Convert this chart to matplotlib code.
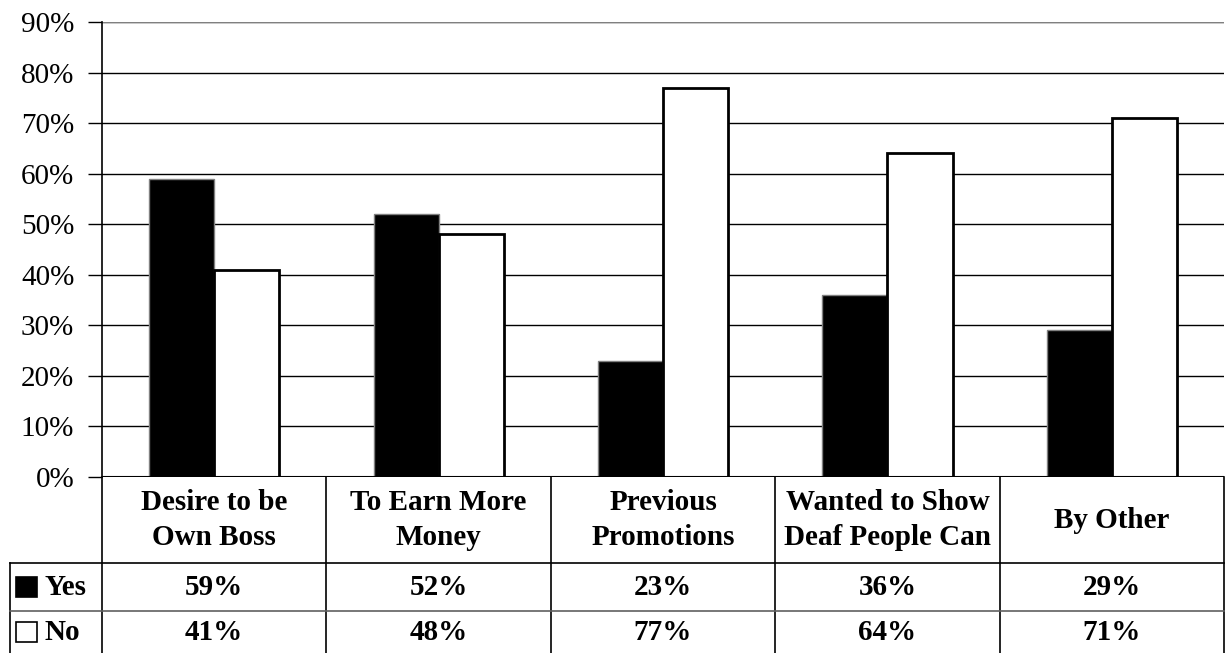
"""Motivation for starting a business: Yes/No bars with a data table underneath."""

import matplotlib
matplotlib.use("Agg")
import matplotlib.pyplot as plt
from matplotlib.patches import Rectangle
import matplotlib.transforms as mtransforms
import numpy as np

plt.rcParams["font.family"] = ["Liberation Serif", "DejaVu Serif"]

# ── data ──
categories = [
    "Desire to be\nOwn Boss",
    "To Earn More\nMoney",
    "Previous\nPromotions",
    "Wanted to Show\nDeaf People Can",
    "By Other",
]
yes_pct = [59, 52, 23, 36, 29]
no_pct = [41, 48, 77, 64, 71]
series_names = ["Yes", "No"]
y_ticks = [0, 10, 20, 30, 40, 50, 60, 70, 80, 90]

FS = 21

fig = plt.figure(figsize=(12.25, 6.53), dpi=100, facecolor="white")
ax = fig.add_axes([0.0833, 0.2695, 0.9159, 0.6968])

x = np.arange(len(categories))
w = 0.29
ax.bar(x - w / 2, yes_pct, w, color="black", edgecolor="#808080",
       linewidth=1.0, zorder=3)
ax.bar(x + w / 2, no_pct, w, color="white", edgecolor="black",
       linewidth=2.0, zorder=3)

ax.set_xlim(-0.5, len(categories) - 0.5)
ax.set_ylim(0, 90)
ax.set_yticks(y_ticks)
ax.set_yticklabels([f"{t}%" for t in y_ticks], fontsize=FS)
ax.tick_params(axis="y", length=10, width=1, direction="out", pad=10)
ax.set_xticks([])
ax.grid(axis="y", color="black", linewidth=1, zorder=1)

for side in ["top", "right", "bottom"]:
    ax.spines[side].set_visible(False)
ax.spines["left"].set_linewidth(1.2)
ax.axhline(90, color="#808080", linewidth=1.5, zorder=2)
ax.axhline(0, color="black", linewidth=1.5, zorder=4)

# ── data table below the axis ──
trans = mtransforms.blended_transform_factory(ax.transData, ax.transAxes)
y_head = -0.189
y_yes = -0.2945
y_no = -0.3868
x_left = -0.91
x_right = len(categories) - 0.5

def hline(y, x0, x1, color="black"):
    ax.plot([x0, x1], [y, y], color=color, linewidth=1.2,
            transform=trans, clip_on=False, zorder=5)

def vline(xv, y0, y1):
    ax.plot([xv, xv], [y0, y1], color="black", linewidth=1.2,
            transform=trans, clip_on=False, zorder=5)

for b in np.arange(-0.5, len(categories), 1.0):
    vline(b, 0, y_no)
vline(x_left, y_head, y_no)
hline(y_head, x_left, x_right)
hline(y_yes, x_left, x_right, color="#606060")

for i, cat in enumerate(categories):
    ax.text(i, y_head / 2, cat, transform=trans, ha="center", va="center",
            fontsize=FS, fontweight="bold", linespacing=1.35)
    ax.text(i, (y_head + y_yes) / 2, f"{yes_pct[i]}%", transform=trans,
            ha="center", va="center", fontsize=FS, fontweight="bold")
    ax.text(i, (y_yes + y_no) / 2, f"{no_pct[i]}%", transform=trans,
            ha="center", va="center", fontsize=FS, fontweight="bold")

# legend keys in the row headers
key_w, key_h = 0.094, 0.044
for (y0, y1), name, fc in [((y_head, y_yes), series_names[0], "black"),
                           ((y_yes, y_no), series_names[1], "white")]:
    yc = (y0 + y1) / 2
    ax.add_patch(Rectangle((-0.883, yc - key_h / 2), key_w, key_h,
                           facecolor=fc, edgecolor="black", linewidth=1.2,
                           transform=trans, clip_on=False, zorder=6))
    ax.text(-0.757, yc, name, transform=trans, ha="left",
            va="center", fontsize=FS, fontweight="bold")

fig.savefig("out.png", dpi=100, facecolor="white")
